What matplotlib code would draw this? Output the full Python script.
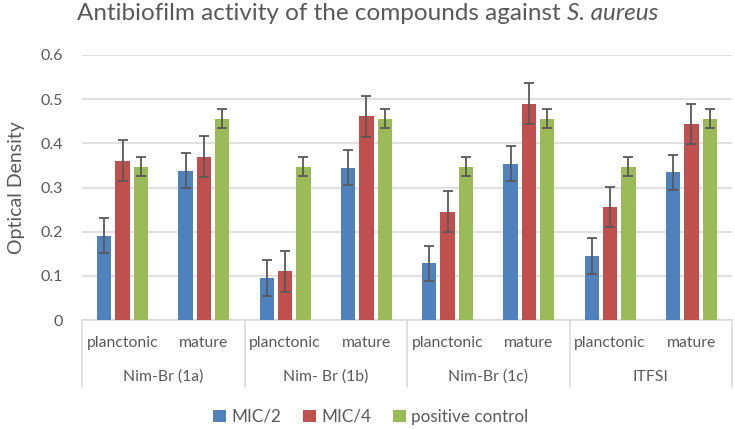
import matplotlib
matplotlib.use("Agg")
import matplotlib.pyplot as plt
import numpy as np
from matplotlib.transforms import blended_transform_factory

plt.rcParams['font.family'] = ['Lato', 'DejaVu Sans']

compounds = ["Nim-Br (1a)", "Nim- Br (1b)", "Nim-Br (1c)", "ITFSI"]
stages = ["planctonic", "mature"]
series_names = ["MIC/2", "MIC/4", "positive control"]

mic2 = [0.191, 0.338, 0.095, 0.345, 0.128, 0.354, 0.145, 0.334]
mic4 = [0.361, 0.370, 0.110, 0.461, 0.245, 0.490, 0.256, 0.444]
posctrl = [0.347, 0.456, 0.347, 0.456, 0.347, 0.456, 0.347, 0.456]

mic2_err = [0.040, 0.040, 0.040, 0.040, 0.040, 0.040, 0.040, 0.040]
mic4_err = [0.046, 0.046, 0.046, 0.046, 0.046, 0.046, 0.046, 0.046]
pos_err = [0.021, 0.021, 0.021, 0.021, 0.021, 0.021, 0.021, 0.021]

title_plain = "Antibiofilm activity of the compounds against "
title_italic = "S. aureus"

colors = ["#4F81BD", "#C0504D", "#9BBB59"]
text_color = "#595959"
grid_color = "#D9D9D9"

fig = plt.figure(figsize=(7.35, 4.29), dpi=100)
ax = fig.add_axes([82/735, 1-320/429, 650/735, 265/429])

n = len(mic2)
x = np.arange(n)
width = 0.176
pitch = 0.225
all_vals = [mic2, mic4, posctrl]
all_errs = [mic2_err, mic4_err, pos_err]
for i, (vals, errs) in enumerate(zip(all_vals, all_errs)):
    ax.bar(x + (i-1)*pitch, vals, width, color=colors[i], label=series_names[i], zorder=3)
    ax.errorbar(x + (i-1)*pitch, vals, yerr=errs, fmt='none', ecolor="#595959",
                elinewidth=1.3, capsize=3.8, capthick=1.3, zorder=4)

ax.set_xlim(-0.5, n-0.5)
ax.set_ylim(0, 0.6)
ax.set_yticks(np.arange(0, 0.61, 0.1))
ax.set_yticklabels(["0", "0.1", "0.2", "0.3", "0.4", "0.5", "0.6"])
ax.yaxis.grid(True, color=grid_color, linewidth=1.1, zorder=0)
ax.set_axisbelow(True)
for s in ["left", "right", "top"]:
    ax.spines[s].set_visible(False)
ax.spines["bottom"].set_color(grid_color)
ax.spines["bottom"].set_linewidth(1.1)
ax.tick_params(axis='y', length=0, labelsize=11.5, colors=text_color, pad=14)
ax.tick_params(axis='x', length=0, labelbottom=False)
ax.set_ylabel("Optical Density", fontsize=14, color=text_color, labelpad=11)

trans = blended_transform_factory(ax.transData, ax.transAxes)
for j, st in enumerate(stages * len(compounds)):
    ax.text(j, -0.0857, st, transform=trans, ha='center', va='center',
            fontsize=11.3, color=text_color, clip_on=False)
for k, c in enumerate(compounds):
    ax.text(2*k + 0.5, -0.214, c, transform=trans, ha='center', va='center',
            fontsize=11.3, color=text_color, clip_on=False)
for k in range(len(compounds) + 1):
    ax.plot([2*k - 0.5, 2*k - 0.5], [0, -0.253], transform=trans, color=grid_color,
            linewidth=1.1, clip_on=False)

# title with italic species name, centred as a whole
ty = 1 - 14/429
t1 = fig.text(0, ty, title_plain, ha='left', va='center', fontsize=17.5, color=text_color)
t2 = fig.text(0, ty, title_italic, ha='left', va='center', fontsize=17.5, color=text_color,
              style='italic')
fig.canvas.draw()
r = fig.canvas.get_renderer()
w1 = t1.get_window_extent(r).width
w2 = t2.get_window_extent(r).width
figw = fig.bbox.width
x0 = (figw - (w1 + w2)) / 2
t1.set_x(x0 / figw)
t2.set_x((x0 + w1) / figw)

leg = fig.legend(loc='center', bbox_to_anchor=(371/735, 1-417/429), ncol=3, frameon=False,
                 fontsize=12.3, handlelength=0.75, handleheight=0.75, handletextpad=0.3,
                 columnspacing=1.3, labelcolor=text_color)

fig.savefig("out.png", dpi=100)
